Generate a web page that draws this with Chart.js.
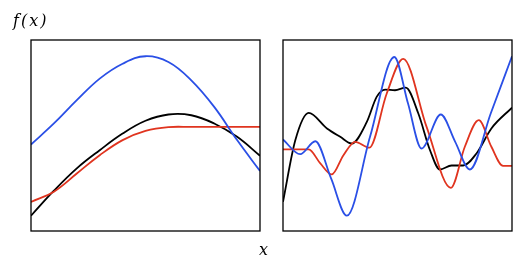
<!DOCTYPE html>
<html>
<head>
<meta charset="utf-8">
<script src="https://cdn.jsdelivr.net/npm/chart.js@4"></script>
<style>
  html, body { margin: 0; padding: 0; background: #fff; }
  #wrap { position: relative; width: 527px; height: 271px; }
  canvas { position: absolute; top: 0; }
  #leftChart { left: 0; }
  #rightChart { left: 270px; }
  .lbl { position: absolute; font-family: "DejaVu Serif", serif; font-style: italic; font-size: 16px; color: #000; }
</style>
</head>
<body>
<div id="wrap">
  <canvas id="leftChart" width="270" height="271"></canvas>
  <canvas id="rightChart" width="257" height="271"></canvas>
  <div class="lbl" style="left:13px; top:11px; letter-spacing:2px;">f(x)</div>
  <div class="lbl" style="left:259px; top:240px;">x</div>
</div>
<script>
// left panel: evenly spaced samples
const leftX = [0, 1, 2, 3, 4, 5, 6, 7, 8, 9, 10];
const leftBlue = [4.53, 5.63, 6.85, 7.98, 8.76, 9.15, 8.85, 7.89, 6.50, 4.76, 3.14];
const leftBlack = [0.80, 2.11, 3.28, 4.23, 5.10, 5.77, 6.10, 6.06, 5.63, 4.93, 3.94];
const leftRed = [1.52, 2.06, 3.01, 3.97, 4.76, 5.24, 5.44, 5.45, 5.45, 5.45, 5.45];

// right panel: key points per series
const rightBlueX = [0, 0.75, 1.41, 2.10, 2.79, 3.80, 4.86, 5.46, 6.05, 6.89, 7.52, 8.16, 9.07, 10];
const rightBlueY = [4.79, 4.02, 4.70, 2.75, 0.80, 4.93, 9.11, 6.67, 4.32, 6.10, 4.67, 3.22, 6.15, 9.15];
const rightRedX = [0, 1.12, 1.63, 2.13, 2.64, 3.15, 3.77, 4.53, 5.25, 6.27, 7.33, 7.94, 8.55, 9.10, 9.61, 10];
const rightRedY = [4.27, 4.27, 3.54, 2.96, 3.97, 4.67, 4.36, 7.20, 9.01, 5.45, 2.26, 4.41, 5.80, 4.41, 3.41, 3.41];
const rightBlackX = [0, 0.54, 1.12, 1.92, 2.50, 3.00, 3.66, 4.09, 4.46, 4.89, 5.36, 5.91, 6.42, 6.85, 7.36, 7.87, 8.45, 9.10, 10];
const rightBlackY = [1.53, 4.76, 6.18, 5.37, 4.93, 4.58, 5.71, 7.02, 7.40, 7.37, 7.51, 6.15, 4.23, 3.22, 3.43, 3.43, 4.06, 5.37, 6.46];

const BLUE = '#2a4fe6';
const RED = '#e0341f';
const BLACK = '#000000';

const frame = {
    id: 'frame',
    afterDraw(chart) {
        const { ctx, chartArea: a } = chart;
        ctx.save();
        ctx.strokeStyle = '#000';
        ctx.lineWidth = 1.3;
        ctx.strokeRect(a.left, a.top, a.right - a.left, a.bottom - a.top);
        ctx.restore();
    },
};

function pts(xs, ys) {
    return xs.map((x, i) => ({ x, y: ys[i] }));
}

function line(data, color, smooth) {
    const ds = {
        data,
        borderColor: color,
        borderWidth: 1.8,
        pointRadius: 0,
        fill: false,
    };
    if (smooth) ds.tension = 0.4;
    else ds.cubicInterpolationMode = 'monotone';
    return ds;
}

function makeChart(id, datasets, padding) {
    new Chart(document.getElementById(id), {
        type: 'line',
        data: { datasets },
        options: {
            responsive: false,
            animation: false,
            layout: { padding },
            plugins: { legend: { display: false }, tooltip: { enabled: false } },
            scales: {
                x: { type: 'linear', min: 0, max: 10, display: false },
                y: { min: 0, max: 10, display: false },
            },
        },
        plugins: [frame],
    });
}

makeChart('leftChart', [
    line(pts(leftX, leftBlue), BLUE, true),
    line(pts(leftX, leftRed), RED, true),
    line(pts(leftX, leftBlack), BLACK, true),
], { left: 31, right: 10, top: 40, bottom: 40 });

makeChart('rightChart', [
    line(pts(rightBlueX, rightBlueY), BLUE),
    line(pts(rightRedX, rightRedY), RED),
    line(pts(rightBlackX, rightBlackY), BLACK),
], { left: 13, right: 15, top: 40, bottom: 40 });
</script>
</body>
</html>
